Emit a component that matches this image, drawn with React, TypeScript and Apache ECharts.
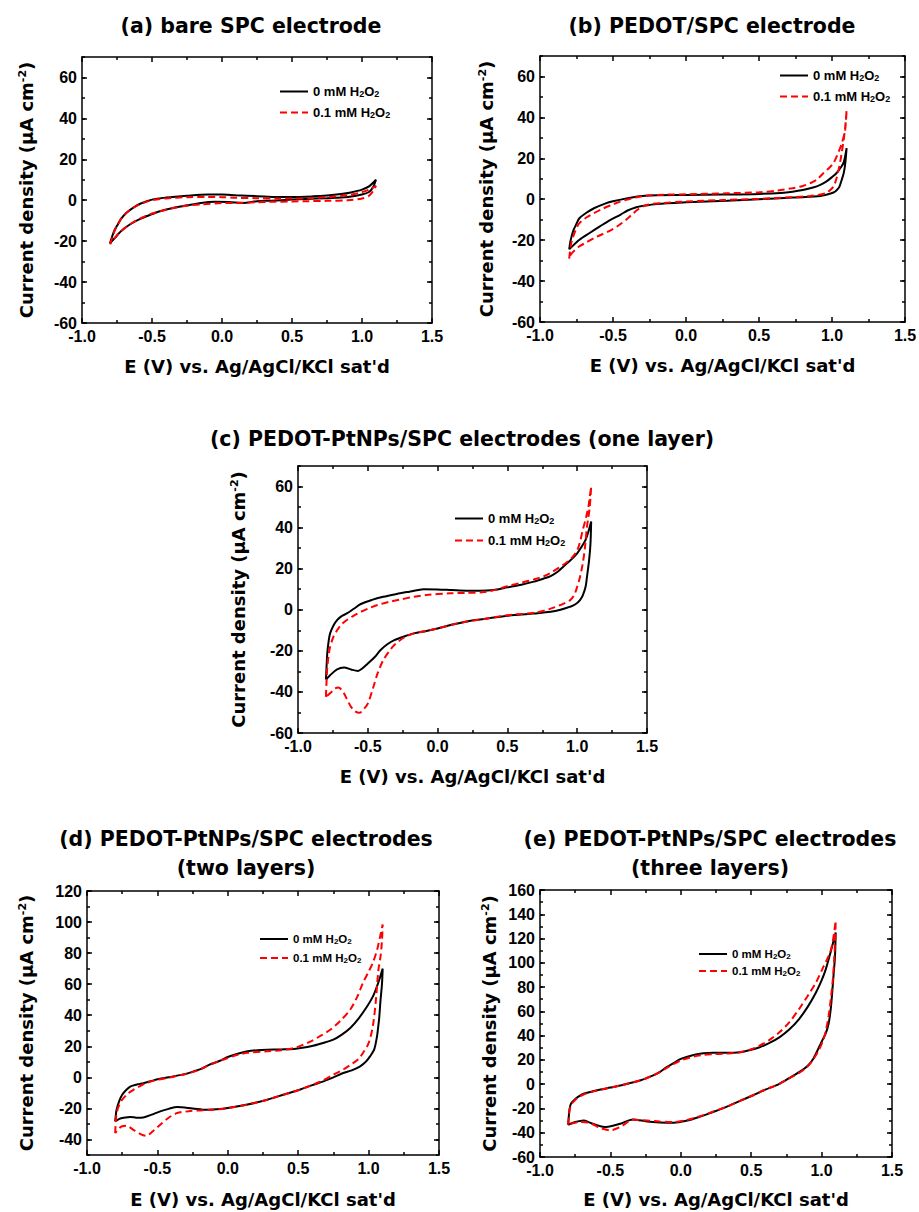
import React, { useEffect, useRef } from 'react';
import * as echarts from 'echarts';

type Pt = [number, number];

const NAME0 = '0 mM H2O2';
const NAME1 = '0.1 mM H2O2';
const X_NAME = "E (V) vs. Ag/AgCl/KCl sat'd";
const Y_NAME = 'Current density (μA cm{sup|-2})';

const yTicksABC = [-60, -40, -20, 0, 20, 40, 60];
const yTicksD = [-40, -20, 0, 20, 40, 60, 80, 100, 120];
const yTicksE = [-60, -40, -20, 0, 20, 40, 60, 80, 100, 120, 140, 160];

// (a) bare SPC electrode
const aBlack: Pt[] = [
  [-0.8, -21], [-0.77, -15], [-0.75, -12.5], [-0.72, -9], [-0.68, -6], [-0.63, -3.5], [-0.58, -1.6], [-0.5, 0.3],
  [-0.4, 1.3], [-0.25, 2.2], [-0.1, 2.8], [0, 2.8], [0.1, 2.4], [0.25, 2], [0.4, 1.6], [0.5, 1.6], [0.65, 1.9],
  [0.75, 2.3], [0.85, 3], [0.92, 3.8], [1.0, 5.2], [1.05, 6.8], [1.1, 10],
  [1.08, 6.5], [1.05, 4], [1.0, 2.8], [0.9, 1.6], [0.75, 1.0], [0.6, 0.6], [0.5, 0.3], [0.35, -0.2], [0.25, -0.5],
  [0.15, -1.3], [0.05, -0.9], [-0.05, -0.8], [-0.15, -1.3], [-0.25, -2.5], [-0.35, -3.8], [-0.45, -5.5], [-0.5, -6.8],
  [-0.58, -9], [-0.65, -11.5], [-0.72, -15], [-0.76, -18], [-0.8, -21],
];
const aRed: Pt[] = [
  [-0.8, -21.5], [-0.77, -15.5], [-0.75, -12.5], [-0.72, -9], [-0.68, -6], [-0.63, -3.5], [-0.58, -1.8], [-0.5, 0],
  [-0.4, 0.9], [-0.25, 1.5], [-0.1, 1.6], [0, 1.5], [0.1, 1.2], [0.25, 1], [0.4, 0.8], [0.5, 0.8], [0.65, 1.1],
  [0.75, 1.5], [0.85, 2.1], [0.92, 2.7], [1.0, 4], [1.05, 5.2], [1.1, 7],
  [1.08, 4.5], [1.05, 2.2], [1.0, 0.8], [0.9, 0], [0.75, -0.3], [0.6, -0.5], [0.5, -0.6], [0.35, -0.8], [0.25, -1],
  [0.1, -1.3], [0, -1.4], [-0.15, -2], [-0.25, -2.7], [-0.35, -3.8], [-0.45, -5.5], [-0.5, -6.5], [-0.58, -8.8],
  [-0.65, -11.5], [-0.72, -15], [-0.76, -18], [-0.8, -21.5],
];

// (b) PEDOT/SPC electrode
const bBlack: Pt[] = [
  [-0.8, -24.5], [-0.79, -20], [-0.77, -15], [-0.75, -12], [-0.73, -9.3], [-0.68, -6.5], [-0.63, -4.4], [-0.55, -2],
  [-0.5, -1], [-0.4, 0.5], [-0.3, 1.6], [-0.2, 2], [0, 2.1], [0.25, 2.3], [0.5, 2.6], [0.65, 3.1], [0.73, 3.7],
  [0.8, 4.5], [0.87, 5.7], [0.92, 7], [0.96, 8.6], [1.0, 10.8], [1.03, 12.7], [1.06, 15.5], [1.08, 18], [1.1, 25],
  [1.09, 17], [1.08, 12.7], [1.06, 8], [1.05, 6], [1.03, 4.3], [1.01, 3.3], [0.96, 2.2], [0.92, 1.6], [0.8, 1],
  [0.73, 0.8], [0.5, 0], [0.28, -0.7], [0, -1.5], [-0.2, -2.3], [-0.3, -3.3], [-0.34, -3.9], [-0.4, -5.5],
  [-0.45, -7.6], [-0.52, -10.2], [-0.59, -13.3], [-0.66, -16.5], [-0.73, -19.8], [-0.8, -24.5],
];
const bRed: Pt[] = [
  [-0.8, -29], [-0.79, -23], [-0.78, -19.8], [-0.75, -14], [-0.73, -11.7], [-0.68, -8.8], [-0.63, -6.8], [-0.57, -4.6],
  [-0.51, -2.8], [-0.46, -1.4], [-0.41, -0.3], [-0.35, 0.8], [-0.29, 1.6], [-0.15, 2.2], [0, 2.4], [0.28, 2.9],
  [0.5, 3.4], [0.63, 4.3], [0.73, 5.4], [0.8, 6.5], [0.85, 7.8], [0.9, 9.8], [0.94, 12.7], [0.98, 15.3], [1.01, 17.6],
  [1.05, 24], [1.07, 28], [1.09, 33.8], [1.1, 43.6],
  [1.09, 35], [1.08, 29], [1.065, 22], [1.05, 16], [1.03, 10], [1.01, 6.2], [0.98, 4], [0.96, 2.9], [0.85, 1.6],
  [0.73, 1], [0.5, 0.2], [0.25, -0.4], [0, -1.1], [-0.15, -1.8], [-0.27, -2.8], [-0.33, -5], [-0.37, -7.5],
  [-0.41, -10], [-0.46, -12.7], [-0.51, -15], [-0.57, -17], [-0.63, -19], [-0.68, -21], [-0.73, -23], [-0.77, -25.5],
  [-0.8, -28],
];

// (c) PEDOT-PtNPs/SPC one layer
const cBlack: Pt[] = [
  [-0.8, -34], [-0.795, -27], [-0.79, -21], [-0.78, -15], [-0.77, -11.5], [-0.745, -7.5], [-0.72, -5], [-0.69, -3.2],
  [-0.65, -1.8], [-0.6, 0.5], [-0.55, 2.8], [-0.47, 4.8], [-0.39, 6.3], [-0.3, 7.6], [-0.22, 8.6], [-0.15, 9.5],
  [-0.1, 10], [0, 9.9], [0.1, 9.6], [0.21, 9.3], [0.3, 9.3], [0.4, 9.6], [0.5, 10.9], [0.6, 12.2], [0.69, 13.7],
  [0.76, 15.2], [0.81, 16.4], [0.86, 18.5], [0.9, 21], [0.95, 24], [1.0, 27.5], [1.03, 30.5], [1.06, 34], [1.08, 38],
  [1.1, 43],
  [1.095, 32], [1.085, 24], [1.07, 16], [1.06, 11.2], [1.04, 7], [1.02, 4.7], [0.99, 2.8], [0.95, 1.5], [0.88, 0],
  [0.81, -1], [0.69, -1.8], [0.55, -2.6], [0.45, -3.4], [0.33, -4.5], [0.21, -5.7], [0.1, -7.3], [0, -9.1],
  [-0.08, -10.3], [-0.17, -11.5], [-0.24, -13], [-0.31, -14.8], [-0.36, -16.8], [-0.41, -19.7], [-0.45, -23],
  [-0.5, -26.2], [-0.54, -28.6], [-0.57, -29.8], [-0.62, -29.1], [-0.67, -28.1], [-0.72, -29], [-0.77, -31.9],
  [-0.8, -34],
];
const cRed: Pt[] = [
  [-0.8, -42.4], [-0.795, -34], [-0.79, -27.8], [-0.78, -22], [-0.77, -18], [-0.745, -13], [-0.72, -10], [-0.69, -7.2],
  [-0.65, -5], [-0.6, -2.8], [-0.55, -1], [-0.49, 0.8], [-0.43, 2.3], [-0.35, 3.8], [-0.27, 5], [-0.17, 6.3],
  [-0.08, 7.2], [0.09, 8], [0.2, 8.2], [0.33, 8.6], [0.42, 9.8], [0.5, 11.5], [0.6, 13.2], [0.69, 14.8], [0.76, 16.3],
  [0.81, 18], [0.87, 20.5], [0.93, 23.4], [0.97, 26], [1.0, 29], [1.02, 33], [1.04, 38.9], [1.06, 44], [1.08, 50],
  [1.09, 55], [1.1, 60],
  [1.09, 50], [1.08, 45], [1.07, 40.5], [1.055, 30], [1.04, 22.6], [1.02, 16], [1.0, 11.2], [0.98, 7.5], [0.95, 4.7],
  [0.88, 2.3], [0.8, 0.3], [0.69, -1.5], [0.55, -2.3], [0.45, -3.1], [0.33, -4.5], [0.21, -5.7], [0.1, -7.3],
  [0, -9.1], [-0.08, -10.3], [-0.17, -11.5], [-0.24, -13.5], [-0.31, -17.2], [-0.35, -20.5], [-0.39, -24.6],
  [-0.43, -31], [-0.46, -37.6], [-0.5, -45.7], [-0.53, -48.5], [-0.56, -50.2], [-0.59, -49.5], [-0.62, -47.3],
  [-0.65, -43.5], [-0.67, -40.8], [-0.69, -38.8], [-0.71, -37.9], [-0.74, -38.5], [-0.76, -40], [-0.8, -42.4],
];

// (d) PEDOT-PtNPs/SPC two layers
const dBlack: Pt[] = [
  [-0.8, -28.4], [-0.795, -24], [-0.79, -20.9], [-0.77, -15], [-0.75, -11.2], [-0.72, -8], [-0.69, -5.8], [-0.64, -4.5],
  [-0.6, -3.7], [-0.55, -2.5], [-0.49, -1.1], [-0.42, 0], [-0.36, 1.1], [-0.3, 2.2], [-0.24, 3.9], [-0.18, 5.8],
  [-0.13, 8.2], [-0.06, 10.5], [0, 13.1], [0.07, 15.2], [0.14, 16.8], [0.21, 17.5], [0.28, 17.8], [0.38, 18],
  [0.47, 18.3], [0.53, 19], [0.59, 20], [0.67, 22], [0.75, 24.3], [0.81, 27.5], [0.87, 31.8], [0.93, 38], [0.99, 45.8],
  [1.03, 52], [1.06, 58.7], [1.08, 64], [1.1, 70],
  [1.095, 60], [1.085, 50], [1.075, 38], [1.065, 30], [1.06, 26.5], [1.04, 18], [1.01, 13.5], [0.98, 10], [0.94, 7.1],
  [0.88, 4.5], [0.82, 2.8], [0.75, 0], [0.68, -2.6], [0.6, -5], [0.51, -8], [0.4, -11], [0.28, -14.4], [0.14, -17.5],
  [0, -19.8], [-0.08, -20.6], [-0.15, -20.9], [-0.25, -20], [-0.36, -19.1], [-0.42, -20.3], [-0.48, -21.9],
  [-0.54, -24], [-0.6, -25.8], [-0.65, -26], [-0.69, -25.5], [-0.74, -26], [-0.77, -26.7], [-0.8, -28.4],
];
const dRed: Pt[] = [
  [-0.8, -35.9], [-0.795, -28], [-0.79, -23], [-0.77, -17.5], [-0.75, -14.4], [-0.71, -10.5], [-0.67, -8], [-0.62, -5.5],
  [-0.58, -3.7], [-0.5, -1.5], [-0.43, -0.4], [-0.36, 1], [-0.29, 2.4], [-0.22, 4.3], [-0.14, 7.5], [-0.07, 10.2],
  [0, 12.5], [0.07, 14.5], [0.14, 15.8], [0.28, 16.8], [0.38, 17.5], [0.47, 18.9], [0.53, 20.8], [0.59, 23.2],
  [0.66, 26.8], [0.73, 30.8], [0.8, 36.5], [0.87, 43.7], [0.92, 52], [0.96, 60.9], [1.0, 68], [1.03, 73.8],
  [1.06, 82], [1.08, 90], [1.1, 98.5],
  [1.095, 88], [1.085, 78], [1.07, 69.5], [1.05, 48], [1.03, 32.9], [1.0, 22], [0.96, 15.7], [0.93, 12], [0.89, 9.2],
  [0.82, 5], [0.75, 1.7], [0.65, -3], [0.51, -8], [0.4, -11], [0.28, -14.4], [0.14, -17.5], [0, -19.8], [-0.1, -20.8],
  [-0.2, -21.3], [-0.28, -21.8], [-0.36, -23], [-0.42, -26], [-0.48, -30.5], [-0.53, -34.5], [-0.58, -37.6],
  [-0.62, -36.5], [-0.67, -33.8], [-0.72, -31.2], [-0.75, -31.5], [-0.77, -32.7], [-0.8, -35.9],
];

// (e) PEDOT-PtNPs/SPC three layers
const eBlack: Pt[] = [
  [-0.8, -33.4], [-0.795, -26], [-0.79, -20.3], [-0.78, -16], [-0.76, -13.4], [-0.73, -10.5], [-0.69, -7.9],
  [-0.63, -6], [-0.57, -4.4], [-0.5, -2.8], [-0.43, -1.1], [-0.36, 1], [-0.29, 3], [-0.2, 7.1], [-0.15, 10],
  [-0.1, 14], [-0.05, 17.5], [0, 20.8], [0.09, 24.1], [0.16, 25.5], [0.23, 25.8], [0.32, 25.8], [0.42, 26.3],
  [0.5, 28.3], [0.56, 30.4], [0.63, 34], [0.7, 38.6], [0.77, 45], [0.84, 53.7], [0.9, 63.5], [0.96, 75.6],
  [1.0, 85.5], [1.03, 94.8], [1.06, 107], [1.08, 116], [1.1, 125],
  [1.095, 105], [1.085, 90], [1.075, 75], [1.065, 62], [1.05, 50], [1.03, 42], [1.01, 37.3], [0.98, 30],
  [0.94, 20.8], [0.9, 15], [0.84, 9.9], [0.77, 5], [0.7, 0.3], [0.6, -4.5], [0.51, -9.3], [0.42, -13.8],
  [0.32, -18.9], [0.22, -23.3], [0.13, -27.1], [0.04, -30.2], [-0.05, -31.8], [-0.15, -31.5], [-0.24, -30.7],
  [-0.34, -29], [-0.43, -32.6], [-0.53, -35.3], [-0.59, -34], [-0.65, -31.5], [-0.69, -29.9], [-0.75, -31.2],
  [-0.8, -33.4],
];
const eRed: Pt[] = [
  [-0.8, -33.4], [-0.795, -27], [-0.79, -21.6], [-0.78, -17], [-0.76, -14.2], [-0.73, -11], [-0.69, -8.5],
  [-0.63, -6.2], [-0.57, -4.5], [-0.5, -2.8], [-0.43, -1.1], [-0.36, 1], [-0.29, 3], [-0.2, 7], [-0.15, 10],
  [-0.1, 13.5], [-0.05, 16.8], [0, 19.5], [0.09, 22.8], [0.16, 24.2], [0.23, 24.7], [0.32, 25.2], [0.42, 26.3],
  [0.5, 28.8], [0.56, 31.8], [0.63, 36.5], [0.7, 42.7], [0.77, 51], [0.84, 61.9], [0.9, 72.5], [0.96, 83.8],
  [1.01, 96], [1.06, 108.5], [1.08, 118], [1.1, 134.5],
  [1.095, 115], [1.08, 86.6], [1.065, 70], [1.05, 56.4], [1.03, 44], [1.01, 35.9], [0.98, 28], [0.94, 20.3],
  [0.9, 14.5], [0.84, 9.3], [0.77, 4.8], [0.7, 0.3], [0.6, -4.5], [0.51, -9.3], [0.42, -13.8], [0.32, -18.9],
  [0.22, -23], [0.13, -26.6], [0.04, -29.6], [-0.05, -31.2], [-0.15, -30.8], [-0.24, -29.9], [-0.34, -29.3],
  [-0.43, -35.3], [-0.5, -38], [-0.57, -36.2], [-0.65, -31.8], [-0.72, -31.2], [-0.76, -32], [-0.8, -33.4],
];

const FONT = '"DejaVu Sans", sans-serif';
const TICK_FONT = '"Liberation Sans", Arial, sans-serif';

interface PanelCfg {
  title: string;
  tx: number;
  ty: number;
  grid: { left: number; top: number; width: number; height: number };
  yMin: number;
  yMax: number;
  yTicks: number[];
  black: Pt[];
  red: Pt[];
  legend: { left: number; top: number; fs: number; sub: number; gap: number };
  yNameGap: number;
  xNameGap: number;
}

const panels: PanelCfg[] = [
  {
    title: '(a) bare SPC electrode', tx: 251, ty: 26,
    grid: { left: 82, top: 57, width: 350, height: 266 },
    yMin: -60, yMax: 70, yTicks: yTicksABC, black: aBlack, red: aRed,
    legend: { left: 279, top: 85, fs: 13, sub: 9, gap: 8 }, yNameGap: 47, xNameGap: 34,
  },
  {
    title: '(b) PEDOT/SPC electrode', tx: 712, ty: 26,
    grid: { left: 540, top: 56, width: 365, height: 266 },
    yMin: -60, yMax: 70, yTicks: yTicksABC, black: bBlack, red: bRed,
    legend: { left: 779, top: 69, fs: 13, sub: 9, gap: 8 }, yNameGap: 45, xNameGap: 34,
  },
  {
    title: '(c) PEDOT-PtNPs/SPC electrodes (one layer)', tx: 462, ty: 439,
    grid: { left: 298, top: 466, width: 349, height: 267 },
    yMin: -60, yMax: 70, yTicks: yTicksABC, black: cBlack, red: cRed,
    legend: { left: 454, top: 512, fs: 13, sub: 9, gap: 9 }, yNameGap: 51, xNameGap: 34,
  },
  {
    title: '(d) PEDOT-PtNPs/SPC electrodes\n(two layers)', tx: 246, ty: 853,
    grid: { left: 87, top: 891, width: 352, height: 264 },
    yMin: -50, yMax: 120, yTicks: yTicksD, black: dBlack, red: dRed,
    legend: { left: 259, top: 933, fs: 11.5, sub: 8, gap: 7 }, yNameGap: 52, xNameGap: 35,
  },
  {
    title: '(e) PEDOT-PtNPs/SPC electrodes\n(three layers)', tx: 710, ty: 853,
    grid: { left: 540, top: 890, width: 352, height: 267 },
    yMin: -60, yMax: 160, yTicks: yTicksE, black: eBlack, red: eRed,
    legend: { left: 698, top: 948, fs: 11.5, sub: 8, gap: 5 }, yNameGap: 42, xNameGap: 33,
  },
];

const lineStyle = { color: '#000', width: 1.5 };

function buildOption() {
  const grid: any[] = [];
  const xAxis: any[] = [];
  const yAxis: any[] = [];
  const series: any[] = [];
  const legend: any[] = [];
  const graphic: any[] = [];

  panels.forEach((p, i) => {
    grid.push({ ...p.grid, containLabel: false, outerBoundsMode: 'none' });
    const xBase = {
      type: 'value', gridIndex: i, min: -1, max: 1.5, interval: 0.5,
      axisLine: { show: true, onZero: false, lineStyle },
      axisTick: { show: true, inside: true, length: 5, lineStyle },
      minorTick: { show: true, splitNumber: 2, length: 3, lineStyle },
      splitLine: { show: false }, minorSplitLine: { show: false },
    };
    xAxis.push({
      ...xBase, position: 'bottom',
      axisLabel: {
        show: true, margin: 5, color: '#000', fontSize: 16, fontWeight: 'bold', fontFamily: TICK_FONT,
        formatter: (v: number) => v.toFixed(1),
      },
      name: X_NAME, nameLocation: 'middle', nameGap: p.xNameGap,
      nameTextStyle: { color: '#000', fontSize: 18, fontWeight: 'bold', fontFamily: FONT },
    });
    xAxis.push({ ...xBase, position: 'top', axisLabel: { show: false } });

    const yMajor = {
      type: 'value', gridIndex: i, min: p.yMin, max: p.yMax, interval: 10,
      axisLine: { show: true, onZero: false, lineStyle },
      axisTick: { show: true, inside: true, length: 5, lineStyle, customValues: p.yTicks },
      splitLine: { show: false },
    };
    const yMinor = {
      type: 'value', gridIndex: i, min: p.yMin, max: p.yMax, interval: 10,
      axisLine: { show: false, onZero: false },
      axisTick: { show: true, inside: true, length: 3, lineStyle },
      axisLabel: { show: false },
      splitLine: { show: false },
    };
    yAxis.push({
      ...yMajor, position: 'left',
      axisLabel: {
        show: true, margin: 5, color: '#000', fontSize: 16, fontWeight: 'bold', fontFamily: TICK_FONT,
        customValues: p.yTicks,
      },
      name: Y_NAME, nameLocation: 'middle', nameGap: p.yNameGap,
      nameTextStyle: {
        color: '#000', fontSize: 18, fontWeight: 'bold', fontFamily: FONT,
        rich: { sup: { color: '#000', fontSize: 11, fontWeight: 'bold', fontFamily: FONT, verticalAlign: 'top' } },
      },
    });
    yAxis.push({ ...yMajor, position: 'right', axisLabel: { show: false } });
    yAxis.push({ ...yMinor, position: 'left' });
    yAxis.push({ ...yMinor, position: 'right' });

    series.push({
      type: 'line', name: NAME0, xAxisIndex: 2 * i, yAxisIndex: 4 * i, data: p.black,
      symbol: 'none', smooth: 0.3, lineStyle: { color: '#000', width: 2 }, itemStyle: { color: '#000' },
      silent: true, z: 2,
    });
    series.push({
      type: 'line', name: NAME1, xAxisIndex: 2 * i, yAxisIndex: 4 * i, data: p.red,
      symbol: 'none', smooth: 0.3, lineStyle: { color: '#ff0000', width: 2, type: [7, 4] },
      itemStyle: { color: '#ff0000' }, silent: true, z: 3,
    });

    legend.push({
      left: p.legend.left, top: p.legend.top, orient: 'vertical',
      itemWidth: 28, itemHeight: 14, itemGap: p.legend.gap, selectedMode: false, padding: 0,
      data: [NAME0, NAME1],
      itemStyle: { opacity: 0, borderWidth: 0 },
      lineStyle: { opacity: 1 },
      formatter: (n: string) => n.replace('H2O2', 'H{sub|2}O{sub|2}'),
      textStyle: {
        color: '#000', fontSize: p.legend.fs, fontWeight: 'bold', fontFamily: TICK_FONT,
        rich: {
          sub: {
            color: '#000', fontSize: p.legend.sub, fontWeight: 'bold', fontFamily: TICK_FONT,
            verticalAlign: 'bottom',
          },
        },
      },
    });

    graphic.push({
      type: 'text', x: p.tx, y: p.ty, silent: true,
      style: {
        text: p.title, fill: '#000', fontSize: 20.5, fontWeight: 'bold', fontFamily: FONT,
        align: 'center', verticalAlign: 'middle', lineHeight: 29,
      },
    });
  });

  return {
    animation: false,
    backgroundColor: '#fff',
    grid, xAxis, yAxis, series, legend, graphic,
  };
}

export default function App() {
  const ref = useRef<HTMLDivElement>(null);
  useEffect(() => {
    if (!ref.current) return;
    const chart = echarts.init(ref.current, undefined, { renderer: 'svg' });
    chart.setOption(buildOption() as any);
    return () => chart.dispose();
  }, []);
  return (
    <div
      ref={ref}
      style={{ position: 'absolute', left: 0, top: 0, width: 919, height: 1212 }}
    />
  );
}
